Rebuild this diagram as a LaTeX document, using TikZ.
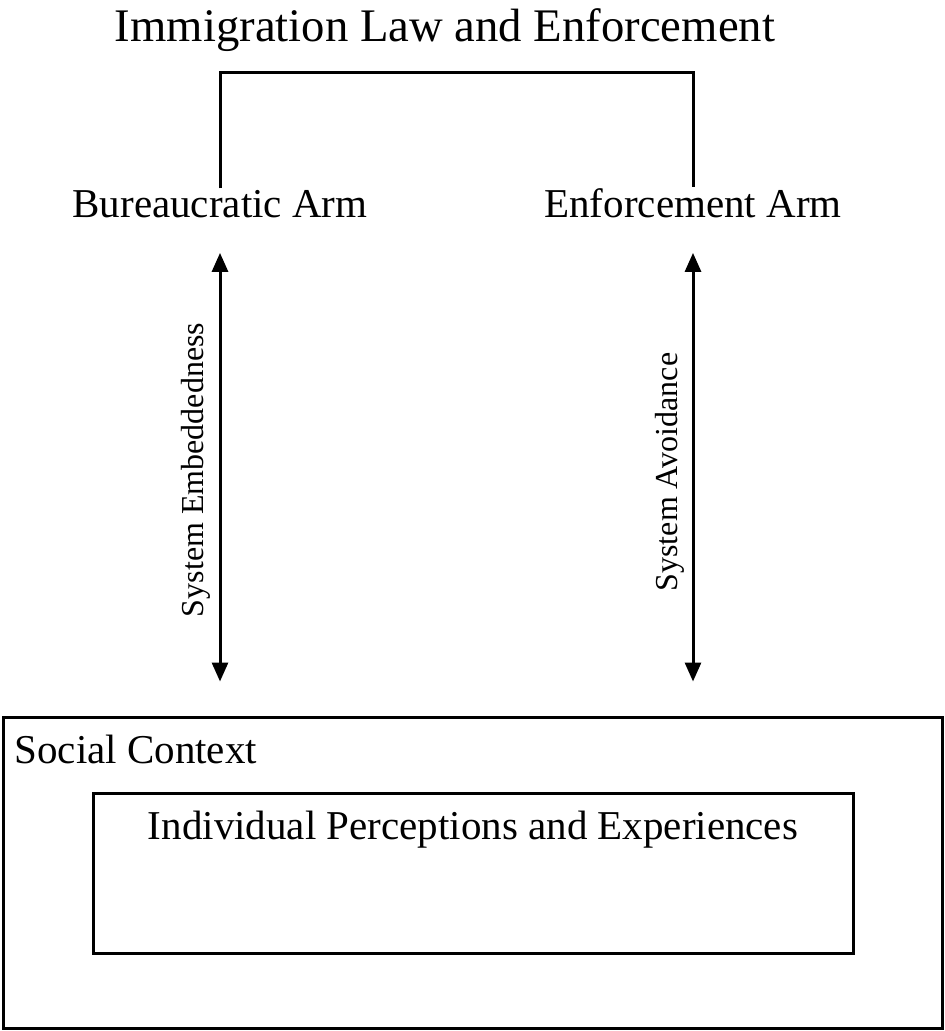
\documentclass[tikz,border=0pt]{standalone}
\usepackage{fontspec}
\setmainfont{Liberation Serif}
\usetikzlibrary{arrows.meta}

\begin{document}
\begin{tikzpicture}[x=1pt,y=-1pt,line width=3pt]
\tikzstyle{every node}+=[inner sep=0pt]
\tikzstyle{lbl}=[font=\fontsize{41}{49}\selectfont,anchor=base]
\tikzstyle{vlbl}=[font=\fontsize{32}{38}\selectfont,anchor=base,rotate=90]
\tikzstyle{box}=[draw,line width=3pt]
\tikzstyle{dbl}=[{Triangle[length=19pt,width=16pt]}-{Triangle[length=19pt,width=16pt]}]
\useasboundingbox (0,0) rectangle (945,1031);
% top part
\node [lbl,font=\fontsize{46.7}{56}\selectfont] (law) at (445,41) {Immigration Law and Enforcement};
\node [lbl] (bur) at (220,217) {Bureaucratic Arm};
\node [lbl] (enf) at (693,217) {Enforcement Arm};
\coordinate (top) at (456,72);
\draw [black] (bur.north) |- (top) -| (enf.north);
% context boxes
\node [box,minimum width=939pt,minimum height=311pt] (ctx) at (472.5,872.5) {};
\node [box,minimum width=760pt,minimum height=160pt] (ind) at (473,873) {};
\node [lbl,anchor=base west] (soc) at (13,763) {Social Context};
\node [lbl] (indtxt) at (473,839) {Individual Perceptions and Experiences};
% arrows
\draw [dbl] ([yshift=-34pt]bur.south) -- ([yshift=34pt]bur.south |- ctx.north);
\draw [dbl] ([yshift=-34pt]enf.south) -- ([yshift=34pt]enf.south |- ctx.north);
\node [vlbl] (emb) at (203,470) {System Embeddedness};
\node [vlbl] (avo) at (677,472) {System Avoidance};
\end{tikzpicture}
\end{document}
